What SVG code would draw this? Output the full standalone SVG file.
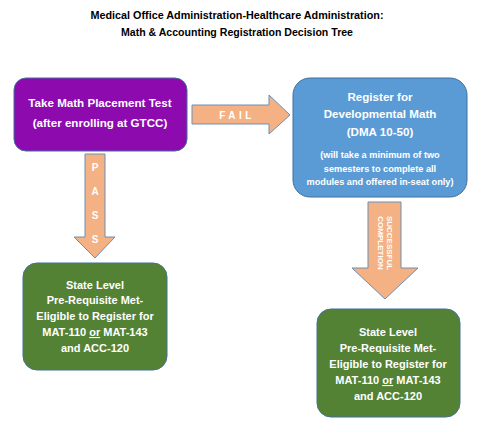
<svg xmlns="http://www.w3.org/2000/svg" width="480" height="433" viewBox="0 0 480 433">
<defs>
<style>
text{font-family:"Liberation Sans",Arial,sans-serif;font-weight:bold;text-anchor:middle}
.t{fill:#000;font-size:10.5px}
.w{fill:#fff;font-size:11px}
.wl{fill:#fff;font-size:11.6px}
.s{fill:#fff;font-size:9.2px}
.lbl{fill:#fff;font-size:10px}
.box{stroke:#41719C;stroke-width:1}
.arr{fill:#F4B183;stroke:#6D8FB5;stroke-width:1}
</style>
</defs>
<rect width="480" height="433" fill="#fff"/>
<g id="title">
<text class="t" x="237" y="19" textLength="293" lengthAdjust="spacingAndGlyphs">Medical Office Administration-Healthcare Administration:</text>
<text class="t" x="237" y="36" textLength="232" lengthAdjust="spacingAndGlyphs">Math &amp; Accounting Registration Decision Tree</text>
</g>
<g id="connectors">
<g id="fail">
<polygon class="arr" points="192,105 269,105 269,95 290,115 269,134 269,124 192,124"/>
<text class="lbl" x="237" y="118.5" letter-spacing="3.5">FAIL</text>
</g>
<g id="pass">
<polygon class="arr" points="85,154 105,154 105,237 115,237 95,258 74,237 85,237"/>
<text class="lbl" x="95" y="171">P</text>
<text class="lbl" x="95" y="195">A</text>
<text class="lbl" x="95" y="219">S</text>
<text class="lbl" x="95" y="243">S</text>
</g>
<g id="success">
<polygon class="arr" points="368,202 401,202 401,268 418,268 385,299 352,268 368,268"/>
<text fill="#fff" style="font-size:8px" transform="translate(387,243) rotate(90)" x="0" y="0">SUCCESSFUL</text>
<text fill="#fff" style="font-size:8px" transform="translate(378,243) rotate(90)" x="0" y="0">COMPLETION</text>
</g>
</g>
<g id="node-test">
<rect class="box" x="14" y="78" width="173" height="73" rx="12" fill="#8C0AAE"/>
<text class="wl" x="100" y="107">Take Math Placement Test</text>
<text class="wl" x="100" y="127">(after enrolling at GTCC)</text>
</g>
<g id="node-dev">
<rect class="box" x="293" y="78" width="174" height="119" rx="17" fill="#5B9BD5"/>
<text class="wl" x="380" y="101">Register for</text>
<text class="wl" x="380" y="118">Developmental Math</text>
<text class="wl" x="380" y="136">(DMA 10-50)</text>
<text class="s" x="380" y="158">(will take a minimum of two</text>
<text class="s" x="380" y="172">semesters to complete all</text>
<text class="s" x="380" y="185">modules and offered in-seat only)</text>
</g>
<g id="node-pass">
<rect class="box" x="23" y="263" width="144" height="107" rx="14" fill="#548235"/>
<text class="w" x="95" y="289">State Level</text>
<text class="w" x="95" y="304">Pre-Requisite Met-</text>
<text class="w" x="95" y="320">Eligible to Register for</text>
<text class="w" x="95" y="336">MAT-110 <tspan text-decoration="underline">or</tspan> MAT-143</text>
<text class="w" x="95" y="352">and ACC-120</text>
</g>
<g id="node-success">
<rect class="box" x="317" y="309" width="143" height="108" rx="14" fill="#548235"/>
<text class="w" x="388" y="336">State Level</text>
<text class="w" x="388" y="352">Pre-Requisite Met-</text>
<text class="w" x="388" y="368">Eligible to Register for</text>
<text class="w" x="388" y="384">MAT-110 <tspan text-decoration="underline">or</tspan> MAT-143</text>
<text class="w" x="388" y="400">and ACC-120</text>
</g>
</svg>
